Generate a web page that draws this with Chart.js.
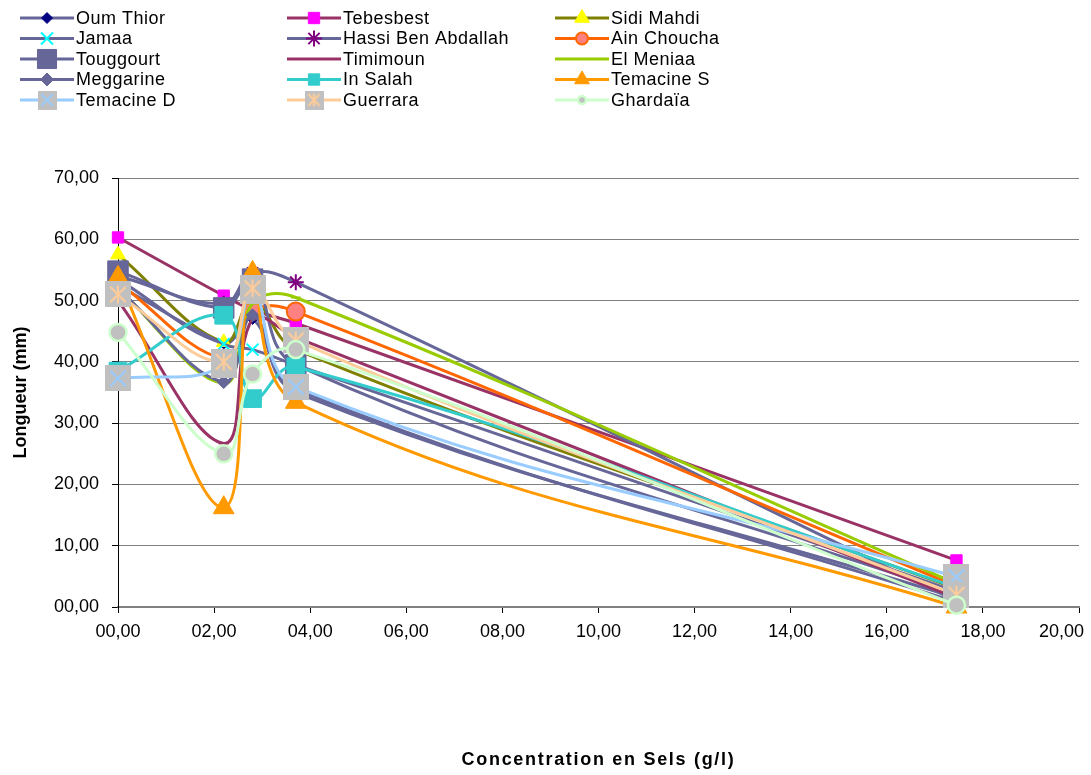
<!DOCTYPE html>
<html>
<head>
<meta charset="utf-8">
<script src="https://cdn.jsdelivr.net/npm/chart.js@4.4.1/dist/chart.umd.min.js"></script>
<style>
  body { margin: 0; background: #fff; }
  canvas { display: block; }
</style>
</head>
<body>
<canvas id="lengthChart" width="1091" height="775"></canvas>
<script>
// salt concentration (g/l) for each measurement
const salinity = [0, 2.2, 2.8, 3.7, 17.45];

// mean length (mm) per station
const oumThior   = [53.5, 43.0, 47.0, 35.0, 1.5];
const tebesbest  = [60.3, 50.8, 48.5, 46.3, 7.6];
const sidiMahdi  = [57.5, 43.2, 50.0, 42.0, 3.0];
const jamaa      = [52.5, 42.9, 42.0, 39.5, 2.5];
const hassi      = [54.0, 49.5, 54.5, 53.0, 1.0];
const ainChoucha = [53.0, 40.5, 48.3, 48.2, 3.4];
const touggourt  = [54.8, 48.8, 53.5, 39.5, 2.0];
const timimoun   = [50.0, 26.7, 47.0, 44.0, 1.5];
const elMeniaa   = [52.0, 36.5, 49.5, 50.5, 3.8];
const meggarine  = [52.0, 36.7, 47.6, 35.5, 0.8];
const inSalah    = [38.5, 47.6, 34.0, 39.2, 3.2];
const temacineS  = [53.8, 16.2, 54.6, 33.4, 0.0];
const temacineD  = [37.3, 39.5, 51.5, 35.9, 4.9];
const guerrara   = [51.0, 40.0, 52.0, 43.5, 2.0];
const ghardaia   = [44.8, 25.0, 38.0, 42.0, 0.3];

const xTicks = [0, 2, 4, 6, 8, 10, 12, 14, 16, 18, 20];
const xTitle = "Concentration en Sels (g/l)";

const FONT = '"Liberation Sans", Arial, sans-serif';

// grey square with a glyph drawn on top (used for Temacine D / Guerrara)
function greyMarker(size, color, glyph) {
  const c = document.createElement("canvas");
  c.width = size;
  c.height = size;
  const g = c.getContext("2d");
  g.fillStyle = "#C0C0C0";
  g.fillRect(0, 0, size, size);
  g.strokeStyle = color;
  g.lineWidth = 2;
  const m = size * 0.2;
  g.beginPath();
  g.moveTo(m, m); g.lineTo(size - m, size - m);
  g.moveTo(size - m, m); g.lineTo(m, size - m);
  if (glyph === "star") {
    g.moveTo(size / 2, m * 0.8); g.lineTo(size / 2, size - m * 0.8);
  }
  g.stroke();
  return c;
}

const stations = [
  { label: "Oum Thior", data: oumThior, line: "#666699", style: "rectRot", fill: "#000080", border: "#000080", r: 5.5 },
  { label: "Tebesbest", data: tebesbest, line: "#993366", style: "rect", fill: "#FF00FF", border: "#FF00FF", r: 8 },
  { label: "Sidi Mahdi", data: sidiMahdi, line: "#808000", style: "triangle", fill: "#FFFF00", border: "#FFFF00", r: 8.5 },
  { label: "Jamaa", data: jamaa, line: "#666699", style: "crossRot", fill: "#00FFFF", border: "#00FFFF", r: 8.5, bw: 2 },
  { label: "Hassi Ben Abdallah", data: hassi, line: "#666699", style: "star", fill: "#800080", border: "#800080", r: 8, bw: 2 },
  { label: "Ain Choucha", data: ainChoucha, line: "#FF6600", style: "circle", fill: "#FF8080", border: "#FF6600", r: 9, bw: 2, lr: 6 },
  { label: "Touggourt", data: touggourt, line: "#666699", style: "rect", fill: "#666699", border: "#666699", r: 14.5, lr: 13.5 },
  { label: "Timimoun", data: timimoun, line: "#993366", style: "line", fill: "#993366", border: "#993366", r: 5, bw: 2 },
  { label: "El Meniaa", data: elMeniaa, line: "#99CC00", style: "line", fill: "#99CC00", border: "#99CC00", r: 5, bw: 2 },
  { label: "Meggarine", data: meggarine, line: "#666699", style: "rectRot", fill: "#666699", border: "#666699", r: 6.5 },
  { label: "In Salah", data: inSalah, line: "#33CCCC", style: "rect", fill: "#33CCCC", border: "#33CCCC", r: 12.5, lr: 8 },
  { label: "Temacine S", data: temacineS, line: "#FF9900", style: "triangle", fill: "#FF9900", border: "#FF9900", r: 12, lr: 8.5 },
  { label: "Temacine D", data: temacineD, line: "#99CCFF", style: greyMarker(26, "#99CCFF", "x"), legendStyle: greyMarker(19, "#99CCFF", "x"), fill: "#C0C0C0", border: "#C0C0C0", r: 13 },
  { label: "Guerrara", data: guerrara, line: "#FFCC99", style: greyMarker(26, "#FFCC99", "star"), legendStyle: greyMarker(19, "#FFCC99", "star"), fill: "#C0C0C0", border: "#C0C0C0", r: 13 },
  { label: "Ghardaïa", data: ghardaia, line: "#CCFFCC", style: "circle", fill: "#C0C0C0", border: "#CCFFCC", r: 8.5, bw: 2.5, lr: 4 },
];

// legend in three columns (line sample + marker + name) and the x title
const stationLegend = {
  id: "stationLegend",
  afterDraw(chart) {
    const { ctx, chartArea } = chart;
    const cols = [20, 287, 555];
    stations.forEach((s, i) => {
      const x0 = cols[i % 3];
      const y = 18 + Math.floor(i / 3) * 20.5;
      ctx.save();
      ctx.strokeStyle = s.line;
      ctx.lineWidth = 3;
      ctx.beginPath();
      ctx.moveTo(x0, y);
      ctx.lineTo(x0 + 54, y);
      ctx.stroke();
      ctx.fillStyle = s.fill;
      ctx.strokeStyle = s.border;
      ctx.lineWidth = s.bw || 1;
      Chart.helpers.drawPoint(ctx, {
        pointStyle: s.legendStyle || s.style,
        radius: s.lr || s.r,
        borderWidth: s.bw || 1,
        rotation: 0,
      }, x0 + 27, y);
      ctx.fillStyle = "#000";
      ctx.font = "18px " + FONT;
      ctx.letterSpacing = "0.5px";
      ctx.textBaseline = "middle";
      ctx.textAlign = "left";
      ctx.fillText(s.label, x0 + 56, y + 1);
      ctx.restore();
    });

    ctx.save();
    ctx.fillStyle = "#000";
    ctx.font = "bold 18px " + FONT;
    ctx.letterSpacing = "1.7px";
    ctx.textAlign = "center";
    ctx.textBaseline = "middle";
    ctx.fillText(xTitle, (chartArea.left + chartArea.right) / 2, 760);
    ctx.restore();
  },
};

const fmt = (v) => (v < 10 ? "0" : "") + v.toFixed(2).replace(".", ",");

new Chart(document.getElementById("lengthChart"), {
  type: "scatter",
  data: {
    datasets: stations.map((s, i) => ({
      label: s.label,
      data: s.data.map((y, k) => ({ x: salinity[k], y: y })),
      showLine: true,
      borderColor: s.line,
      borderWidth: 3,
      tension: 0.4,
      pointStyle: s.style,
      pointRadius: s.r,
      pointHoverRadius: s.r,
      pointBackgroundColor: s.fill,
      pointBorderColor: s.border,
      pointBorderWidth: s.bw || 1,
      order: stations.length - i,
      clip: 14,
    })),
  },
  options: {
    responsive: false,
    animation: false,
    layout: { autoPadding: false, padding: { top: 178, left: 8, right: 12, bottom: 4 } },
    scales: {
      x: {
        type: "linear",
        min: 0,
        max: 20,
        afterBuildTicks: (scale) => {
          scale.ticks = xTicks.map((v) => ({ value: v }));
        },
        afterFit: (scale) => {
          scale.paddingRight = 0;
          scale.height = 164;
        },
        ticks: {
          color: "#000",
          padding: 8,
          maxRotation: 0,
          font: { family: FONT, size: 18 },
          // last label is pulled left so it stays inside the frame
          callback: (v) => (v === 20 ? fmt(v) + "\u00a0\u00a0\u00a0\u00a0\u00a0\u00a0\u00a0" : fmt(v)),
        },
        grid: { drawOnChartArea: false, drawTicks: true, tickLength: 6, tickColor: "#000" },
        border: { display: true, color: "#808080", width: 1.5 },
        title: { display: false },
      },
      y: {
        min: 0,
        max: 70,
        ticks: {
          stepSize: 10,
          color: "#000",
          padding: 13,
          font: { family: FONT, size: 18 },
          callback: (v) => fmt(v),
        },
        afterFit: (scale) => {
          scale.width = 110;
        },
        grid: { color: "#808080", lineWidth: 1, tickLength: 6, tickColor: "#000" },
        border: { display: true, color: "#000", width: 1 },
        title: {
          display: true,
          text: "Longueur (mm)",
          color: "#000",
          font: { family: FONT, size: 18, weight: "bold" },
          padding: { top: 2, bottom: 0 },
        },
      },
    },
    plugins: {
      legend: { display: false },
      tooltip: { enabled: false },
    },
  },
  plugins: [stationLegend],
});
</script>
</body>
</html>
